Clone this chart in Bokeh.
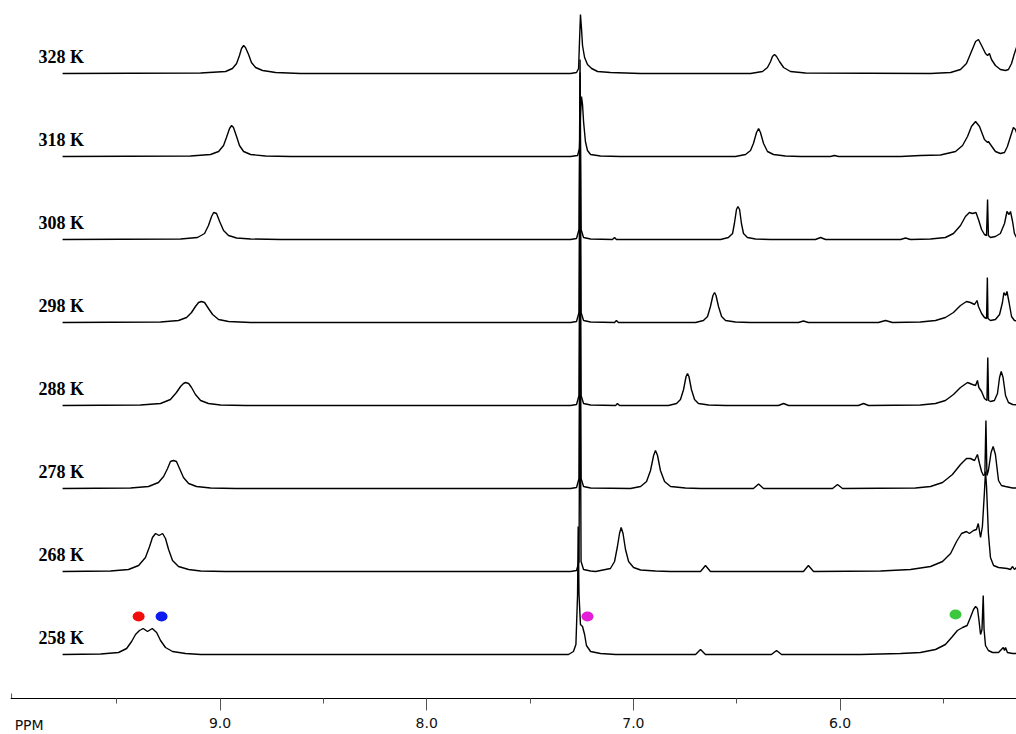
from bokeh.plotting import figure
from bokeh.models import Range1d, LinearAxis, FixedTicker, PrintfTickFormatter, Label
from bokeh.core.properties import value
from bokeh.embed import file_html
from bokeh.resources import INLINE

# ---------------- data (chemical shift in ppm, intensity in a.u.) ----------------
temperatures = ["258 K", "268 K", "278 K", "288 K", "298 K", "308 K", "318 K", "328 K"]

ppm_328 = [9.762, 9.094, 8.973, 8.940, 8.920, 8.906, 8.896, 8.886, 8.877, 8.862, 8.848, 8.828, 8.794, 8.731, 8.611,
           7.304, 7.275, 7.265, 7.261, 7.256, 7.251, 7.246, 7.236, 7.222, 7.202, 7.173, 7.111, 6.965,
           6.433, 6.375, 6.351, 6.336, 6.327, 6.317, 6.307, 6.293, 6.273, 6.240, 6.167,
           5.562, 5.465, 5.417, 5.388, 5.364, 5.344, 5.330, 5.315, 5.296, 5.286, 5.277, 5.267, 5.248, 5.224,
           5.199, 5.185, 5.170, 5.156, 5.146, 5.127]
int_328 = [0, 0.5, 2, 5, 10, 18, 25, 28, 26, 19, 11, 6, 3, 1, 0,
           0, 1, 5, 30, 59, 45, 28, 16, 9, 5, 2, 1, 0,
           0, 2, 6, 12, 17, 19, 17, 12, 6, 2, 0.5,
           0, 1, 4, 10, 22, 32, 34, 28, 20, 18, 20, 14, 8, 4,
           3, 4, 10, 20, 26, 30]

ppm_318 = [9.762, 9.143, 9.046, 9.007, 8.983, 8.969, 8.954, 8.944, 8.935, 8.920, 8.906, 8.886, 8.852, 8.780, 8.659,
           7.304, 7.270, 7.261, 7.256, 7.251, 7.246, 7.241, 7.232, 7.222, 7.207, 7.159, 7.062,
           6.506, 6.457, 6.433, 6.419, 6.404, 6.394, 6.385, 6.370, 6.351, 6.322, 6.264, 6.191,
           6.046, 6.027, 6.007,
           5.707, 5.611, 5.514, 5.441, 5.407, 5.383, 5.364, 5.344, 5.325, 5.301,
           5.286, 5.282, 5.272, 5.248, 5.224, 5.204, 5.190, 5.175, 5.161, 5.151, 5.136]
int_318 = [0, 0.5, 2, 5, 11, 19, 28, 31, 29, 20, 11, 5, 2, 0.5, 0,
           0, 1, 8, 40, 60, 52, 35, 15, 6, 2, 0.5, 0,
           0, 2, 6, 13, 24, 28, 24, 13, 5, 2, 0.5, 0,
           0, 1, 0,
           0, 1, 1.5, 5, 11, 20, 30, 35, 30, 17,
           14, 15, 12, 5, 3, 4, 10, 20, 29, 27, 18]

ppm_308 = [9.762, 9.191, 9.109, 9.075, 9.056, 9.041, 9.031, 9.017, 9.002, 8.983, 8.959, 8.920, 8.852, 8.707,
           7.304, 7.275, 7.263, 7.258, 7.253, 7.241, 7.207,
           7.101, 7.091, 7.082,
           6.578, 6.540, 6.520, 6.511, 6.501, 6.494, 6.486, 6.477, 6.467, 6.448, 6.409, 6.336,
           6.119, 6.094, 6.070,
           5.707, 5.683, 5.659,
           5.562, 5.490, 5.451, 5.417, 5.393, 5.374, 5.359, 5.342, 5.330, 5.315,
           5.301, 5.291, 5.286, 5.282, 5.272, 5.248, 5.224, 5.204, 5.192, 5.182,
           5.175, 5.165, 5.156, 5.146, 5.127]
int_308 = [0, 0.5, 2, 6, 14, 23, 27, 26, 18, 9, 4, 1.5, 0.5, 0,
           0, 1, 10, 180, 10, 2, 0.5,
           0, 2, 0,
           0, 2, 6, 16, 30, 33, 30, 16, 6, 2, 0.5, 0,
           0, 2, 0,
           0, 1.5, 0,
           0.5, 2, 6, 14, 23, 27, 26, 27, 20, 10,
           5, 4, 40, 4, 2, 3, 6, 16, 28, 25,
           28, 18, 6, 2, 1]

ppm_298 = [9.762, 9.288, 9.201, 9.162, 9.138, 9.119, 9.104, 9.090, 9.075, 9.056, 9.036, 9.007, 8.959, 8.852,
           7.304, 7.275, 7.263, 7.258, 7.253, 7.241, 7.207,
           7.091, 7.082, 7.072,
           6.699, 6.661, 6.641, 6.627, 6.615, 6.607, 6.600, 6.588, 6.573, 6.554, 6.506, 6.433,
           6.201, 6.177, 6.153,
           5.814, 5.780, 5.746,
           5.611, 5.538, 5.490, 5.451, 5.417, 5.388, 5.369, 5.349, 5.337, 5.330,
           5.315, 5.301, 5.291, 5.287, 5.284, 5.272, 5.248, 5.228, 5.214, 5.207,
           5.199, 5.192, 5.182, 5.170, 5.156, 5.127]
int_298 = [0, 0.5, 2, 5, 10, 16, 20, 21, 20, 14, 8, 3, 1, 0,
           0, 1, 10, 250, 10, 2, 0.5,
           0, 2, 0,
           0, 2, 6, 16, 27, 30, 27, 16, 6, 2, 0.5, 0,
           0, 1.5, 0,
           0, 2, 0,
           0.5, 2, 5, 10, 17, 21, 20, 18, 22, 16,
           9, 5, 4, 45, 4, 2, 3, 8, 20, 30,
           27, 31, 20, 6, 2, 1]

ppm_288 = [9.762, 9.385, 9.288, 9.240, 9.211, 9.191, 9.177, 9.167, 9.152, 9.138, 9.119, 9.094, 9.056, 8.998, 8.877,
           7.304, 7.275, 7.263, 7.258, 7.253, 7.241, 7.207,
           7.086, 7.077, 7.067,
           6.830, 6.791, 6.772, 6.757, 6.745, 6.738, 6.731, 6.719, 6.704, 6.685, 6.636, 6.554,
           6.298, 6.273, 6.249,
           5.911, 5.886, 5.862,
           5.611, 5.538, 5.490, 5.451, 5.417, 5.383, 5.359, 5.344, 5.335, 5.328,
           5.315, 5.301, 5.289, 5.285, 5.281, 5.272, 5.253, 5.238, 5.228, 5.220,
           5.211, 5.199, 5.185, 5.165, 5.127]
int_288 = [0, 0.5, 2, 6, 13, 19, 22, 23, 22, 18, 11, 5, 2, 0.5, 0,
           0, 1, 10, 250, 10, 2, 0.5,
           0, 2, 0,
           0, 2, 6, 16, 29, 32, 29, 16, 6, 2, 0.5, 0,
           0, 2, 0,
           0, 2, 0,
           0.5, 2, 5, 11, 18, 23, 21, 20, 25, 18,
           14, 7, 5, 48, 5, 4, 5, 12, 28, 34,
           28, 10, 3, 1, 0.5]

ppm_278 = [9.762, 9.433, 9.346, 9.298, 9.273, 9.254, 9.240, 9.225, 9.211, 9.196, 9.177, 9.152, 9.114, 9.046, 8.925,
           7.304, 7.275, 7.263, 7.258, 7.253, 7.241, 7.207,
           7.014, 6.965, 6.936, 6.917, 6.902, 6.893, 6.883, 6.869, 6.849, 6.820, 6.748, 6.675,
           6.419, 6.394, 6.370,
           6.036, 6.012, 5.988,
           5.635, 5.562, 5.504, 5.456, 5.417, 5.388, 5.369, 5.349, 5.335, 5.325,
           5.315, 5.306, 5.299, 5.294, 5.289, 5.282, 5.269, 5.259, 5.248, 5.233,
           5.219, 5.199, 5.165, 5.127]
int_278 = [0, 0.5, 2, 6, 12, 20, 27, 28, 27, 20, 11, 5, 2, 0.5, 0,
           0, 1, 10, 250, 10, 2, 0.5,
           0, 2, 7, 18, 33, 38, 33, 18, 7, 2, 0.5, 0,
           0, 4.5, 0,
           0, 4, 0,
           0.5, 2, 6, 14, 24, 30, 30, 28, 34, 25,
           17, 13, 14, 68, 13, 18, 36, 42, 34, 8,
           3, 2, 0.5, 0.5]

ppm_268 = [9.762, 9.530, 9.443, 9.394, 9.361, 9.341, 9.327, 9.312, 9.295, 9.278, 9.264, 9.249, 9.230, 9.201, 9.152, 9.094, 8.973,
           7.304, 7.275, 7.263, 7.258, 7.253, 7.241, 7.207,
           7.183, 7.159, 7.111, 7.091, 7.077, 7.067, 7.059, 7.050, 7.038, 7.023, 6.999, 6.965, 6.893, 6.820,
           6.675, 6.651, 6.627,
           6.177, 6.153, 6.128,
           5.804, 5.659, 5.562, 5.504, 5.465, 5.436, 5.412, 5.388, 5.374, 5.354,
           5.340, 5.331, 5.320, 5.311, 5.301, 5.296, 5.291, 5.282, 5.272, 5.257,
           5.233, 5.191, 5.175, 5.165, 5.156, 5.146, 5.127]
int_268 = [0, 0.5, 2, 6, 14, 25, 34, 38, 36, 38, 33, 22, 11, 5, 2, 0.5, 0,
           0, 1, 10, 250, 10, 2, 0.5,
           0, 1, 3, 10, 25, 38, 44, 38, 22, 10, 4, 1.5, 0.5, 0,
           0, 6, 0,
           0, 6, 0,
           0.5, 2, 5, 10, 18, 30, 38, 40, 38, 41,
           42, 48, 34, 45, 80, 100, 85, 38, 14, 6,
           4, 3, 2, 5, 2, 4, 1]

ppm_258 = [9.762, 9.578, 9.491, 9.452, 9.428, 9.409, 9.390, 9.372, 9.351, 9.328, 9.307, 9.288, 9.264, 9.230, 9.167, 9.094,
           7.314, 7.290, 7.278, 7.270, 7.267, 7.263, 7.256, 7.246, 7.236, 7.227, 7.207, 7.159, 7.086,
           6.699, 6.675, 6.651,
           6.332, 6.307, 6.283,
           5.901, 5.707, 5.611, 5.538, 5.490, 5.456, 5.432, 5.407, 5.385, 5.369,
           5.354, 5.344, 5.335, 5.328, 5.320, 5.313, 5.307, 5.303, 5.296, 5.282,
           5.262, 5.233, 5.210, 5.204, 5.199, 5.190, 5.165, 5.127]
int_258 = [0, 0.5, 2, 6, 13, 20, 24, 26, 23, 26, 22, 14, 7, 3, 1, 0,
           0, 3, 10, 60, 128, 60, 30, 28, 20, 9, 3, 1, 0,
           0, 5, 0,
           0, 4, 0,
           0, 1, 2, 5, 10, 18, 24, 27, 29, 37,
           45, 48, 46, 35, 20, 25, 59, 25, 9, 4,
           2, 2, 7, 4, 7, 2, 1, 1]

# assignment markers drawn above the 258 K trace
marker_ppm = [9.394, 9.283, 7.222, 5.441]
marker_int = [38, 38, 38, 40]
marker_colors = ["#f20d0d", "#0d1af0", "#e21fd6", "#3cc83c"]

ppm_series = [ppm_258, ppm_268, ppm_278, ppm_288, ppm_298, ppm_308, ppm_318, ppm_328]
int_series = [int_258, int_268, int_278, int_288, int_298, int_308, int_318, int_328]

# ---------------- layout ----------------
BASE = 44
STEP = 83

p = figure(frame_width=1006, frame_height=732,
           x_range=Range1d(10.014, 5.146), y_range=Range1d(-34, 698),
           x_axis_type=None, y_axis_type=None,
           toolbar_location=None, output_backend="svg",
           min_border_left=10, min_border_right=0, min_border_top=0, min_border_bottom=0)
p.outline_line_color = None
p.background_fill_color = "white"
p.border_fill_color = "white"

for i, (xs, ys) in enumerate(zip(ppm_series, int_series)):
    off = BASE + STEP * i
    p.line(xs, [v + off for v in ys], line_color="black", line_width=1.4)

p.text(x=[9.878] * len(temperatures),
       y=[BASE + STEP * i + 17 for i in range(len(temperatures))],
       text=temperatures, text_font=value("Liberation Serif"), text_font_style="bold",
       text_font_size="18px", text_baseline="middle", text_align="left", text_color="black")

p.ellipse(x=marker_ppm, y=[BASE + v for v in marker_int], width=12, height=10,
          width_units="screen", height_units="screen",
          fill_color=marker_colors, line_color=None)

ax = LinearAxis(ticker=FixedTicker(ticks=[6, 7, 8, 9], minor_ticks=[5.5, 6.5, 7.5, 8.5, 9.5]),
                formatter=PrintfTickFormatter(format="%.1f"), fixed_location=0)
ax.axis_line_color = "black"
ax.axis_line_width = 1.2
ax.major_tick_line_color = "#555555"
ax.major_tick_out = 12
ax.major_tick_in = 0
ax.minor_tick_line_color = "#555555"
ax.minor_tick_out = 5
ax.minor_tick_in = 0
ax.major_label_text_font = "DejaVu Sans"
ax.major_label_text_font_size = "14px"
ax.major_label_text_color = "#111111"
ax.major_label_standoff = 7
p.add_layout(ax, "below")

# small end tick at the left of the axis
p.segment(x0=[10.009], y0=[0], x1=[10.009], y1=[5], line_color="#555555", line_width=1)

p.add_layout(Label(x=9.994, y=-26, text="PPM", text_font="DejaVu Sans", text_font_size="14px",
                   text_color="#111111", text_baseline="middle", text_align="left"))

open("out.html", "w").write(file_html(p, INLINE))
